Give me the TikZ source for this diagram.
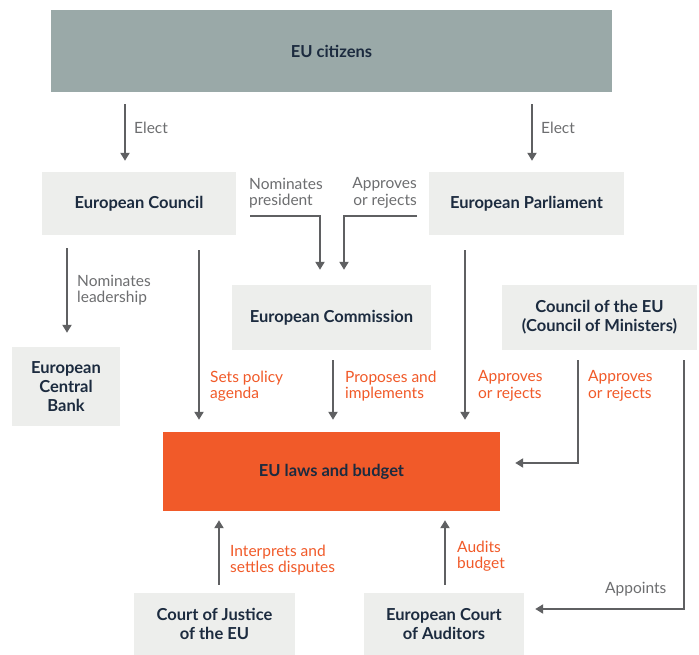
\documentclass[tikz,border=0pt]{standalone}
\usepackage{fontspec}
\setmainfont{Lato}
\usetikzlibrary{arrows.meta}
\definecolor{navy}{HTML}{1C2B3F}
\definecolor{boxgray}{HTML}{EDEEEC}
\definecolor{citgray}{HTML}{9AA9A8}
\definecolor{euorange}{HTML}{F15A29}
\definecolor{linegray}{HTML}{5F6062}
\definecolor{labgray}{HTML}{6D6E70}
\tikzset{
  inst/.style={fill=boxgray, text=navy, font=\fontsize{16.5}{19}\selectfont\bfseries, align=center, inner sep=0pt},
  arr/.style={draw=linegray, line width=2pt, -{Triangle[width=9pt,length=8pt]}},
  lab/.style={text=labgray, font=\fontsize{15.5}{16.5}\selectfont, align=left, inner sep=0pt, anchor=north west},
  olab/.style={lab, text=euorange}
}
\begin{document}
\begin{tikzpicture}[x=1pt,y=-1pt]
\useasboundingbox[fill=white] (0,0) rectangle (699,655);
% institutions
\node[inst, fill=citgray, minimum width=561pt, minimum height=82pt] (citizens) at (331.5,51) {EU citizens};
\node[inst, minimum width=194pt, minimum height=63pt] (council) at (139,203.5) {European Council};
\node[inst, minimum width=195pt, minimum height=63pt] (parliament) at (526.5,203.5) {European Parliament};
\node[inst, minimum width=199pt, minimum height=65pt] (commission) at (331.5,317.5) {European Commission};
\node[inst, minimum width=195pt, minimum height=65pt] (ministers) at (599.5,317.5) {Council of the EU\\(Council of Ministers)};
\node[inst, minimum width=108pt, minimum height=79pt] (ecb) at (66,386.5) {European\\Central\\Bank};
\node[inst, fill=euorange, minimum width=337pt, minimum height=79pt] (laws) at (331.5,471.5) {EU laws and budget};
\node[inst, minimum width=161pt, minimum height=62pt] (justice) at (214.5,624) {Court of Justice\\of the EU};
\node[inst, minimum width=160pt, minimum height=62pt] (auditors) at (444,624) {European Court\\of Auditors};
% free ends
\coordinate (nomstart) at (250,216);
\coordinate (appstart) at (417,216);
% elections
\draw[arr, shorten <=12pt, shorten >=11pt] (citizens.south -| 125,0) -- (council.north -| 125,0);
\draw[arr, shorten <=12pt, shorten >=11pt] (citizens.south -| 532,0) -- (parliament.north -| 532,0);
\node[lab] (elect1) at (134,121.5) {Elect};
\node[lab] (elect2) at (541,121.5) {Elect};
% commission
\draw[arr, shorten >=15pt] (nomstart) -| (commission.north -| 320,0);
\draw[arr, shorten >=15pt] (appstart) -| (commission.north -| 344,0);
\node[lab] (nompres) at (249,177.5) {Nominates\\president};
\node[lab, align=right, anchor=north east] (apprej) at (417,177.5) {Approves\\or rejects};
% central bank
\draw[arr, shorten <=13pt, shorten >=14pt] (council.south -| 67,0) -- (ecb.north -| 67,0);
\node[lab] (nomlead) at (77,274.5) {Nominates\\leadership};
% into laws
\draw[arr, shorten <=15pt, shorten >=12pt] (council.south -| 199,0) -- (laws.north -| 199,0);
\draw[arr, shorten <=10pt, shorten >=12pt] (commission.south -| 333,0) -- (laws.north -| 333,0);
\draw[arr, shorten <=15pt, shorten >=12pt] (parliament.south -| 465,0) -- (laws.north -| 465,0);
\draw[arr, shorten <=10pt, shorten >=15pt] (ministers.south -| 578,0) |- (laws.east |- 0,463);
\draw[arr, shorten <=10pt, shorten >=11pt] (ministers.south -| 684,0) |- (auditors.east |- 0,609);
\node[olab] (setpol) at (210,370.5) {Sets policy\\agenda};
\node[olab] (propimp) at (345,370.5) {Proposes and\\implements};
\node[olab] (apprej2) at (478,370.5) {Approves\\or rejects};
\node[olab] (apprej3) at (588,370.5) {Approves\\or rejects};
\node[lab] (appoints) at (605,581.5) {Appoints};
% courts
\draw[arr, shorten <=8pt, shorten >=9pt] (justice.north -| 219,0) -- (laws.south -| 219,0);
\draw[arr, shorten <=8pt, shorten >=9pt] (auditors.north -| 445,0) -- (laws.south -| 445,0);
\node[olab] (interp) at (230,544.5) {Interprets and\\settles disputes};
\node[olab] (audits) at (457,540.5) {Audits\\budget};
\end{tikzpicture}
\end{document}
